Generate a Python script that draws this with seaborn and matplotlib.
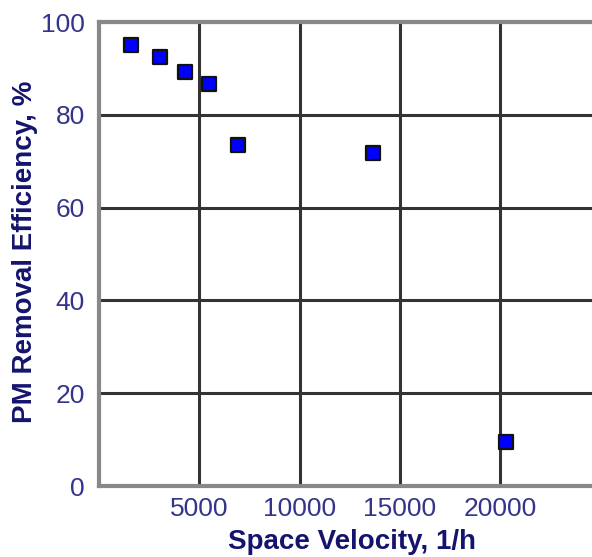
import matplotlib
matplotlib.use("Agg")
import matplotlib.pyplot as plt
import seaborn as sns
import pandas as pd

space_velocity = [1600, 3050, 4300, 5500, 6950, 13650, 20300]
pm_efficiency = [95.0, 92.5, 89.2, 86.6, 73.5, 71.8, 9.5]
x_ticks = [5000, 10000, 15000, 20000]
y_ticks = [0, 20, 40, 60, 80, 100]

df = pd.DataFrame({"sv": space_velocity, "eff": pm_efficiency})

sns.set_style("white")
plt.rcParams["font.family"] = ["Liberation Sans", "DejaVu Sans"]

fig = plt.figure(figsize=(5.92, 5.57), dpi=100)
ax = fig.add_axes([99/592, 1 - 486/557, 1 - 99/592, (486 - 22)/557])

sns.scatterplot(data=df, x="sv", y="eff", marker="s", s=110, color="#0000ff",
                edgecolor="#111111", linewidth=1.6, ax=ax, zorder=5, clip_on=False)

ax.set_xlim(0, 24580)
ax.set_ylim(0, 100)
ax.set_xticks(x_ticks)
ax.set_yticks(y_ticks)
ax.set_xticklabels([str(v) for v in x_ticks])
ax.set_yticklabels([str(v) for v in y_ticks])

ax.grid(True, color="#333333", linewidth=2.2)
ax.set_axisbelow(True)
for side in ["left", "bottom", "top"]:
    ax.spines[side].set_visible(True)
    ax.spines[side].set_color("#888888")
    ax.spines[side].set_linewidth(3)
ax.spines["right"].set_visible(False)

tick_color = "#34348c"
ax.tick_params(axis="both", length=0, labelsize=19, colors=tick_color)
ax.tick_params(axis="y", pad=10)
ax.tick_params(axis="x", pad=8)

label_color = "#14146e"
ax.set_xlabel("Space Velocity, 1/h", fontsize=20, fontweight="bold", color=label_color)
ax.set_ylabel("PM Removal Efficiency, %", fontsize=20, fontweight="bold", color=label_color)
ax.xaxis.set_label_coords(0.513, -0.093)
ax.yaxis.set_label_coords(-0.124, 0.505)

fig.savefig("out.png", dpi=100)
